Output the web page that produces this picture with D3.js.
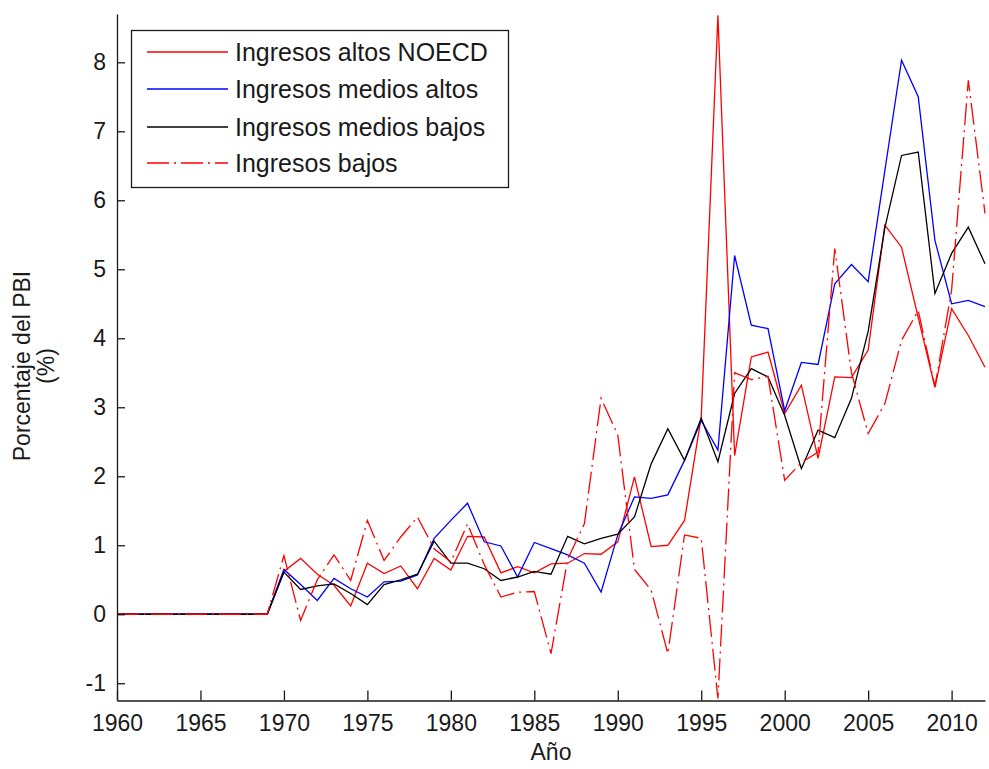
<!DOCTYPE html>
<html>
<head>
<meta charset="utf-8">
<script src="https://cdn.jsdelivr.net/npm/d3@7"></script>
<style>
  body { margin: 0; background: #fff; }
  svg text { font-family: "Liberation Sans", Arial, sans-serif; fill: #1a1a1a; }
</style>
</head>
<body>
<svg id="chart" width="989" height="769"></svg>
<script>
// años 1960-2012
var years = d3.range(1960, 2013);

var zeros60s = [0, 0, 0, 0, 0, 0, 0, 0, 0, 0];

// Ingresos altos NOECD (rojo continuo)
var altosNoecd = zeros60s.concat([
    0.62, 0.81, 0.58, 0.42, 0.12, 0.74, 0.59, 0.70, 0.37, 0.81,
    0.64, 1.13, 1.12, 0.60, 0.69, 0.60, 0.73, 0.74, 0.88, 0.87,
    1.05, 1.99, 0.98, 1.00, 1.36, 2.86, 8.68, 2.30, 3.73, 3.80,
    2.91, 3.32, 2.26, 3.44, 3.43, 3.83, 5.64, 5.32, 4.30, 3.29,
    4.43, 4.04, 3.58]);

// Ingresos medios altos (azul)
var mediosAltos = zeros60s.concat([
    0.65, 0.43, 0.20, 0.52, 0.37, 0.25, 0.47, 0.48, 0.57, 1.10,
    1.36, 1.61, 1.05, 0.99, 0.54, 1.04, 0.95, 0.86, 0.74, 0.32,
    1.15, 1.70, 1.68, 1.73, 2.23, 2.81, 2.38, 5.20, 4.19, 4.14,
    2.95, 3.65, 3.62, 4.79, 5.07, 4.82, 6.43, 8.03, 7.50, 5.42,
    4.50, 4.55, 4.46]);

// Ingresos medios bajos (negro)
var mediosBajos = zeros60s.concat([
    0.61, 0.36, 0.41, 0.44, 0.30, 0.14, 0.43, 0.50, 0.58, 1.06,
    0.74, 0.74, 0.66, 0.49, 0.54, 0.62, 0.58, 1.13, 1.02, 1.10,
    1.16, 1.41, 2.18, 2.69, 2.23, 2.84, 2.21, 3.20, 3.56, 3.44,
    2.88, 2.11, 2.67, 2.56, 3.13, 4.10, 5.60, 6.65, 6.70, 4.65,
    5.23, 5.61, 5.08]);

// Ingresos bajos (rojo punto-raya)
var bajos = zeros60s.concat([
    0.85, -0.09, 0.50, 0.86, 0.49, 1.36, 0.78, 1.12, 1.41, 0.95,
    0.76, 1.31, 0.72, 0.25, 0.32, 0.33, -0.57, 0.80, 1.31, 3.13,
    2.60, 0.65, 0.35, -0.57, 1.15, 1.10, -1.22, 3.50, 3.40, 3.45,
    1.94, 2.20, 2.35, 5.30, 3.50, 2.62, 3.05, 3.97, 4.40, 3.30,
    4.70, 7.74, 5.81]);

var seriesNames = ['Ingresos altos NOECD', 'Ingresos medios altos', 'Ingresos medios bajos', 'Ingresos bajos'];
var seriesValues = [altosNoecd, mediosAltos, mediosBajos, bajos];
var seriesColors = ['#ff0000', '#0000ff', '#000000', '#ff0000'];
var seriesDash = [null, null, null, '22,5,2,5'];

var xTicks = d3.range(1960, 2011, 5);
var yTicks = d3.range(-1, 9);

var svg = d3.select('#chart');

var x = d3.scaleLinear().domain([1960, 2012]).range([117, 985]);
var y = d3.scaleLinear().domain([-1.25, 8.7]).range([700.5, 14]);

svg.append('defs').append('clipPath').attr('id', 'plotclip')
    .append('rect')
    .attr('x', x(1960)).attr('y', y(8.7) - 2)
    .attr('width', x(2012) - x(1960) + 2)
    .attr('height', y(-1.25) - y(8.7) + 2);

var line = d3.line()
    .x(function(d, i) { return x(years[i]); })
    .y(function(d) { return y(d); });

var plot = svg.append('g').attr('clip-path', 'url(#plotclip)');

seriesValues.forEach(function(vals, k) {
    plot.append('path')
        .attr('d', line(vals))
        .attr('fill', 'none')
        .attr('stroke', seriesColors[k])
        .attr('stroke-width', 1.3)
        .attr('stroke-dasharray', seriesDash[k]);
});

// axes, ticks pointing inwards like matlab
var xAxis = svg.append('g')
    .attr('transform', 'translate(0,' + y(-1.25) + ')')
    .call(d3.axisBottom(x).tickValues(xTicks).tickFormat(d3.format('d'))
        .tickSizeInner(-10).tickSizeOuter(0).tickPadding(14));

// matlab writes "-1" with a plain hyphen
var yAxis = svg.append('g')
    .attr('transform', 'translate(' + x(1960) + ',0)')
    .call(d3.axisLeft(y).tickValues(yTicks).tickFormat(function(d) { return String(d); })
        .tickSizeInner(-8).tickSizeOuter(0).tickPadding(11));

[xAxis, yAxis].forEach(function(ax) {
    ax.select('.domain').attr('stroke', '#1a1a1a').attr('stroke-width', 1.3);
    ax.selectAll('.tick line').attr('stroke', '#1a1a1a').attr('stroke-width', 1.3);
    ax.selectAll('.tick text')
        .style('font-family', '"Liberation Sans", Arial, sans-serif')
        .style('font-size', '23px')
        .attr('fill', '#1a1a1a');
});

// axis titles
svg.append('text')
    .attr('x', 551).attr('y', 760)
    .attr('text-anchor', 'middle')
    .style('font-size', '23px')
    .text('Año');

var yTitle = svg.append('text')
    .attr('transform', 'translate(30,366) rotate(-90)')
    .attr('text-anchor', 'middle')
    .style('font-size', '23px');
yTitle.append('tspan').attr('x', 0).attr('y', 0).text('Porcentaje del PBI');
yTitle.append('tspan').attr('x', 0).attr('y', 24).text('(%)');

// legend
var legend = svg.append('g');
legend.append('rect')
    .attr('x', 131.5).attr('y', 30.5)
    .attr('width', 377).attr('height', 157)
    .attr('fill', '#fff')
    .attr('stroke', '#1a1a1a')
    .attr('stroke-width', 1.3);

var rowY = [52, 89, 127, 163];
seriesNames.forEach(function(name, k) {
    legend.append('line')
        .attr('x1', 147).attr('x2', 228)
        .attr('y1', rowY[k]).attr('y2', rowY[k])
        .attr('stroke', seriesColors[k])
        .attr('stroke-width', 1.3)
        .attr('stroke-dasharray', seriesDash[k]);
    legend.append('text')
        .attr('x', 235).attr('y', rowY[k] + 9)
        .style('font-size', '25px')
        .text(name);
});
</script>
</body>
</html>
